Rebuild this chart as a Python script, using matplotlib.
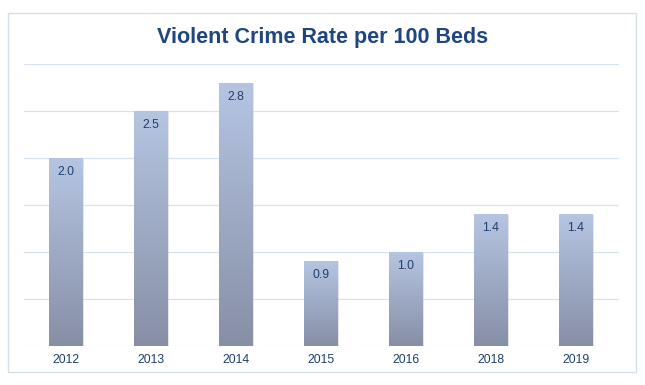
import matplotlib
matplotlib.use("Agg")
import matplotlib.pyplot as plt
import numpy as np
from matplotlib.patches import Rectangle
from matplotlib.colors import LinearSegmentedColormap

plt.rcParams['font.family'] = ['Liberation Sans', 'DejaVu Sans']

categories = ["2012", "2013", "2014", "2015", "2016", "2018", "2019"]
values = [2.0, 2.5, 2.8, 0.9, 1.0, 1.4, 1.4]
labels = ["2.0", "2.5", "2.8", "0.9", "1.0", "1.4", "1.4"]

fig = plt.figure(figsize=(6.45, 3.85), dpi=100)
fig.patch.set_facecolor("white")

# outer frame
frame = Rectangle((8/645, 1 - 372/385), (636-8)/645, (372-13)/385,
                  transform=fig.transFigure, fill=False, edgecolor="#d5dfea", lw=1.0)
fig.add_artist(frame)

ax = fig.add_axes([23.5/645, 39/385, 595/645, 282/385])
ax.set_xlim(-0.5, len(categories) - 0.5)
ax.set_ylim(0, 3.0)
ax.set_yticks(np.arange(0, 3.01, 0.5))
ax.yaxis.grid(True, color="#d6e2f0", lw=0.9)
ax.set_axisbelow(True)
for s in ax.spines.values():
    s.set_visible(False)
ax.tick_params(axis='y', left=False, labelleft=False)
ax.tick_params(axis='x', bottom=False, labelsize=8.8, colors="#1f3f6e", pad=2)
ax.set_xticks(range(len(categories)))
ax.set_xticklabels(categories)

cmap = LinearSegmentedColormap.from_list("g", ["#878fa6", "#b5c5e2"])
grad = np.linspace(0, 1, 256).reshape(-1, 1)
w = 0.4
x = np.arange(len(categories))
for xi, v, lab in zip(x, values, labels):
    # subtle shadow
    sh = Rectangle((xi - w/2 + 0.012, -0.01), w, v, facecolor="#c8ccd4", edgecolor="none",
                   alpha=0.5, zorder=2)
    ax.add_patch(sh)
    bars = ax.bar(xi, v, width=w, color="none", edgecolor="none", zorder=3)
    rect = bars.patches[0]
    im = ax.imshow(grad, cmap=cmap, origin="lower", aspect="auto",
                   extent=(xi - w/2, xi + w/2, 0, v), zorder=3)
    im.set_clip_path(rect)
    ax.text(xi, v - 0.085, lab, ha="center", va="top", fontsize=8.8,
            color="#1f3f6e", zorder=4)

ax.set_xlim(-0.5, len(categories) - 0.5)
ax.set_ylim(0, 3.0)

fig.text(0.5, 1 - 37.5/385, "Violent Crime Rate per 100 Beds", ha="center", va="center",
         fontsize=15.5, fontweight="bold", color="#1f477e")

fig.savefig("out.png", dpi=100, facecolor="white")
